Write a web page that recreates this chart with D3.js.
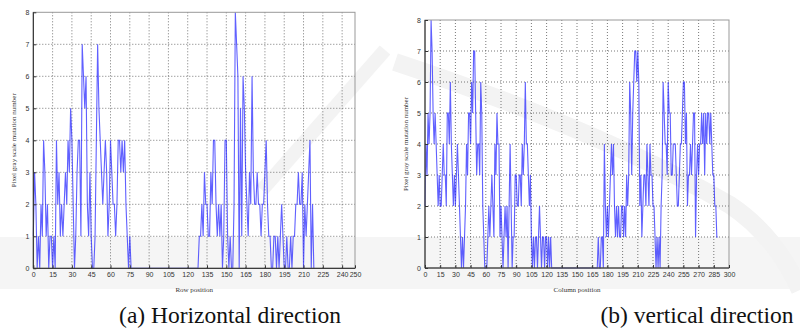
<!DOCTYPE html>
<html>
<head>
<meta charset="utf-8">
<script src="https://cdn.jsdelivr.net/npm/d3@7"></script>
<style>
  body { margin: 0; background: #fff; }
  svg { display: block; }
  .tick-label { font-family: Arial, "Liberation Sans", sans-serif; font-size: 7px; fill: #333; }
  .axis-title { font-family: "Liberation Serif", "Times New Roman", serif; font-size: 7px; fill: #333; }
  .caption { font-family: "Liberation Serif", "Times New Roman", serif; font-size: 23.5px; fill: #111; }
</style>
</head>
<body>
<div id="chart"></div>
<script>
// values, one per row / column position
let rowValues = [
  1,3,2,0,1,0,2,1,4,3,
  1,2,0,1,1,0,1,0,4,2,
  3,1,2,1,2,3,2,4,3,5,
  4,2,0,1,3,4,4,1,7,6,
  5,6,2,1,3,1,0,0,1,4,
  7,5,4,3,2,3,4,3,1,2,
  4,3,2,2,1,2,4,4,3,4,
  3,4,2,1,0,1,0,0,0,0,
  0,0,0,0,0,0,0,0,0,0,
  0,0,0,0,0,0,0,0,0,0,
  0,0,0,0,0,0,0,0,0,0,
  0,0,0,0,0,0,0,0,0,0,
  0,0,0,0,0,0,0,0,0,1,
  1,2,1,3,2,2,1,1,3,2,
  4,4,2,1,2,1,2,0,1,4,
  4,1,0,1,0,0,2,8,7,6,
  0,5,1,6,5,3,2,1,3,2,
  6,3,2,2,3,2,2,1,2,2,
  3,4,2,1,1,0,0,1,1,0,
  1,0,1,2,1,0,0,1,0,0,
  1,0,1,1,2,2,3,2,2,3,
  0,2,1,2,3,4,0,2,0
];
let columnValues = [
  2,4,3,5,4,5,8,7,5,4,
  5,4,3,2,3,2,2,3,4,3,
  3,2,5,5,4,6,4,3,2,3,
  2,3,4,3,2,1,0,1,0,1,
  2,4,3,5,5,4,6,5,7,7,
  5,3,4,4,3,6,5,2,1,0,
  0,0,1,2,1,2,3,2,1,4,
  3,5,4,4,1,2,1,0,1,2,
  1,2,0,2,4,2,0,1,1,3,
  3,2,2,3,3,2,4,3,4,6,
  4,4,3,2,3,1,0,1,0,1,
  1,0,1,2,1,0,1,1,0,1,
  1,0,1,0,1,0,0,0,0,0,
  0,0,0,0,0,0,0,0,0,0,
  0,0,0,0,0,0,0,0,0,0,
  0,0,0,0,0,0,0,0,0,0,
  0,0,0,0,0,0,0,0,0,0,
  0,1,0,0,1,1,0,4,2,1,
  2,1,2,3,4,3,4,2,1,2,
  1,2,1,1,2,2,1,2,1,3,
  2,3,6,5,3,5,6,7,7,6,
  7,6,2,3,1,2,3,3,2,4,
  3,2,4,3,3,2,2,1,0,1,
  0,1,0,2,3,6,5,4,4,3,
  6,5,5,3,3,4,4,4,3,2,
  2,3,4,4,5,6,6,4,5,2,
  3,3,4,3,4,5,5,1,3,4,
  3,4,4,5,4,5,3,5,4,5,
  5,4,5,4,3,3,2,2,1,1
];
let rowTicks = [0,15,30,45,60,75,90,105,120,135,150,165,180,195,210,225,240,250];
let columnTicks = [0,15,30,45,60,75,90,105,120,135,150,165,180,195,210,225,240,255,270,285,300];
let yTicks = [0,1,2,3,4,5,6,7,8];
let yTitle = 'Pixel gray scale mutation number';

let width = 800, height = 329;
let svg = d3.select('#chart').append('svg')
  .attr('width', width)
  .attr('height', height);

// faint watermark shapes behind the charts
let wm = svg.append('g').attr('fill', 'none').attr('stroke', '#f3f3f3');
svg.insert('rect', 'g').attr('x', 0).attr('y', 237).attr('width', 800).attr('height', 52).attr('fill', '#f5f5f5');
wm.append('path').attr('d', 'M385,50 L262,190').attr('stroke-width', 14);
wm.append('path').attr('d', 'M395,62 Q600,130 730,205 Q775,235 800,290').attr('stroke-width', 18);

function drawPanel(opts) {
  let g = svg.append('g');
  let x = d3.scaleLinear().domain(opts.xDomain).range([opts.left, opts.right]);
  let y = d3.scaleLinear().domain([0, 8]).range([opts.bottom, opts.top]);

  // dotted grid
  g.append('g').selectAll('line').data(opts.xTicks.filter(d => d > 0 && d < opts.xDomain[1])).enter().append('line')
    .attr('x1', d => x(d)).attr('x2', d => x(d))
    .attr('y1', opts.top).attr('y2', opts.bottom)
    .attr('stroke', '#555').attr('stroke-width', 0.8).attr('stroke-dasharray', '1,2');
  g.append('g').selectAll('line').data(yTicks.filter(d => d > 0 && d < 8)).enter().append('line')
    .attr('x1', opts.left).attr('x2', opts.right)
    .attr('y1', d => y(d)).attr('y2', d => y(d))
    .attr('stroke', '#555').attr('stroke-width', 0.8).attr('stroke-dasharray', '1,2');

  // series
  let line = d3.line().x((d, i) => x(i)).y(d => y(d));
  g.append('path')
    .datum(opts.values)
    .attr('d', line)
    .attr('fill', 'none')
    .attr('stroke', '#2222ff')
    .attr('stroke-opacity', 0.72)
    .attr('stroke-width', 1.1);

  // frame
  g.append('rect')
    .attr('x', opts.left).attr('y', opts.top)
    .attr('width', opts.right - opts.left).attr('height', opts.bottom - opts.top)
    .attr('fill', 'none').attr('stroke', '#999').attr('stroke-width', 1);
  g.append('line').attr('x1', opts.left).attr('x2', opts.left).attr('y1', opts.top).attr('y2', opts.bottom)
    .attr('stroke', '#222');
  g.append('line').attr('x1', opts.left).attr('x2', opts.right).attr('y1', opts.bottom).attr('y2', opts.bottom)
    .attr('stroke', '#222');

  // axes
  let xAxis = d3.axisBottom(x).tickValues(opts.xTicks).tickSize(3).tickFormat(d3.format('d'));
  let yAxis = d3.axisLeft(y).tickValues(yTicks).tickSize(3).tickFormat(d3.format('d'));
  let xa = g.append('g').attr('transform', `translate(0,${opts.bottom})`).call(xAxis);
  xa.select('.domain').remove();
  xa.selectAll('.tick line').attr('y2', -3).attr('stroke', '#333');
  xa.selectAll('.tick text').attr('class', 'tick-label').attr('y', 4).attr('font-size', null).attr('font-family', null).attr('fill', null);
  let ya = g.append('g').attr('transform', `translate(${opts.left},0)`).call(yAxis);
  ya.select('.domain').remove();
  ya.selectAll('.tick line').attr('x2', 3).attr('stroke', '#333');
  ya.selectAll('.tick text').attr('class', 'tick-label').attr('x', -4).attr('font-size', null).attr('font-family', null).attr('fill', null);

  // titles
  g.append('text')
    .attr('class', 'axis-title')
    .attr('transform', `translate(${opts.left - 17},${(opts.top + opts.bottom) / 2}) rotate(-90)`)
    .attr('text-anchor', 'middle')
    .text(yTitle);
  g.append('text')
    .attr('class', 'axis-title')
    .attr('x', (opts.left + opts.right) / 2).attr('y', opts.bottom + 24)
    .attr('text-anchor', 'middle')
    .text(opts.xTitle);
  g.append('text')
    .attr('class', 'caption')
    .attr('x', opts.captionX).attr('y', 323)
    .attr('text-anchor', 'middle')
    .text(opts.caption);
}

drawPanel({
  values: rowValues, xDomain: [0, 250], xTicks: rowTicks,
  left: 33.3, right: 355, top: 12.3, bottom: 268.3,
  xTitle: 'Row position', caption: '(a) Horizontal direction', captionX: 230
});
drawPanel({
  values: columnValues, xDomain: [0, 300], xTicks: columnTicks,
  left: 425, right: 729, top: 20, bottom: 268,
  xTitle: 'Column position', caption: '(b) vertical direction', captionX: 697
});
</script>
</body>
</html>
